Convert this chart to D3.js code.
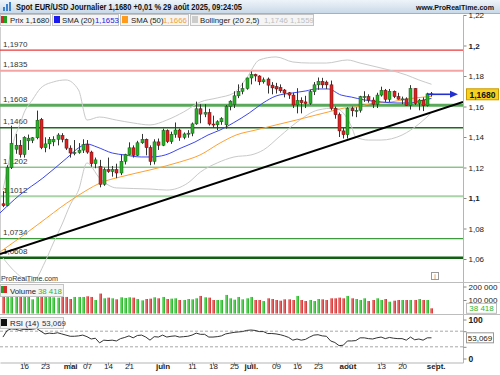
<!DOCTYPE html>
<html>
<head>
<meta charset="utf-8">
<script src="https://cdn.jsdelivr.net/npm/d3@7"></script>
<style>
  body { margin: 0; background: #fff; }
  svg { display: block; font-family: "Liberation Sans", Arial, sans-serif; }
</style>
</head>
<body>
<svg id="chart" width="500" height="375"></svg>
<script>
// trading days, 9 april -> 29 august 2025
const firstDay = new Date(2025, 3, 9);
const isWeekday = d => d.getDay() % 6 !== 0;
const dates = d3.timeDay.range(firstDay, new Date(2025, 7, 30)).filter(isWeekday);

const opens = [1.0962,1.0950,1.1200,1.1320,1.1346,1.1285,1.1375,1.1378,1.1395,1.1515,
  1.1330,1.1355,1.1368,1.1385,1.1410,1.1385,1.1327,1.1295,1.1298,1.1314,
  1.1350,1.1301,1.1225,1.1205,1.1090,1.1186,1.1174,1.1186,1.1164,1.1241,
  1.1284,1.1329,1.1280,1.1362,1.1385,1.1330,1.1240,1.1368,1.1346,1.1442,
  1.1370,1.1418,1.1446,1.1398,1.1420,1.1425,1.1486,1.1585,1.1550,1.1560,
  1.1485,1.1480,1.1500,1.1480,1.1600,1.1612,1.1670,1.1700,1.1718,1.1787,
  1.1810,1.1800,1.1762,1.1780,1.1740,1.1730,1.1725,1.1708,1.1690,1.1675,
  1.1610,1.1640,1.1630,1.1620,1.1697,1.1742,1.1765,1.1760,1.1742,1.1588,
  1.1546,1.1440,1.1415,1.1587,1.1572,1.1575,1.1664,1.1665,1.1642,1.1615,
  1.1675,1.1706,1.1647,1.1700,1.1665,1.1648,1.1650,1.1607,1.1718,1.1620,
  1.1642,1.1605,1.1683];
const highs = [1.1045,1.1215,1.1474,1.1420,1.1380,1.1405,1.1416,1.1400,1.1573,1.1525,
  1.1398,1.1400,1.1405,1.1425,1.1425,1.1390,1.1345,1.1380,1.1360,1.1385,
  1.1380,1.1310,1.1265,1.1250,1.1200,1.1265,1.1210,1.1225,1.1285,1.1290,
  1.1365,1.1345,1.1375,1.1420,1.1390,1.1345,1.1385,1.1390,1.1455,1.1450,
  1.1435,1.1495,1.1455,1.1430,1.1445,1.1495,1.1632,1.1615,1.1615,1.1585,
  1.1540,1.1510,1.1530,1.1610,1.1641,1.1700,1.1745,1.1755,1.1790,1.1830,
  1.1815,1.1805,1.1790,1.1790,1.1760,1.1755,1.1745,1.1715,1.1695,1.1690,
  1.1720,1.1660,1.1670,1.1710,1.1760,1.1790,1.1788,1.1770,1.1770,1.1600,
  1.1560,1.1460,1.1595,1.1600,1.1595,1.1670,1.1700,1.1680,1.1660,1.1690,
  1.1730,1.1715,1.1715,1.1705,1.1690,1.1665,1.1660,1.1740,1.1720,1.1650,
  1.1660,1.1690,1.1695];
const lows = [1.0940,1.0945,1.1190,1.1290,1.1265,1.1265,1.1315,1.1360,1.1385,1.1320,
  1.1300,1.1320,1.1340,1.1345,1.1365,1.1315,1.1265,1.1280,1.1290,1.1295,
  1.1290,1.1205,1.1195,1.1070,1.1080,1.1165,1.1140,1.1130,1.1150,1.1220,
  1.1280,1.1265,1.1275,1.1355,1.1280,1.1215,1.1220,1.1315,1.1340,1.1360,
  1.1355,1.1395,1.1375,1.1385,1.1395,1.1405,1.1480,1.1490,1.1530,1.1475,
  1.1460,1.1445,1.1480,1.1455,1.1575,1.1590,1.1655,1.1680,1.1710,1.1745,
  1.1765,1.1740,1.1750,1.1685,1.1680,1.1685,1.1690,1.1660,1.1650,1.1590,
  1.1555,1.1555,1.1590,1.1610,1.1675,1.1710,1.1720,1.1715,1.1575,1.1520,
  1.1400,1.1390,1.1390,1.1535,1.1530,1.1560,1.1630,1.1625,1.1590,1.1590,
  1.1665,1.1630,1.1630,1.1655,1.1645,1.1615,1.1605,1.1580,1.1610,1.1575,
  1.1570,1.1600,1.1665];
const closes = [1.0950,1.1200,1.1358,1.1346,1.1285,1.1398,1.1392,1.1395,1.1510,1.1330,
  1.1355,1.1385,1.1385,1.1413,1.1385,1.1327,1.1295,1.1298,1.1314,1.1350,
  1.1301,1.1225,1.1250,1.1090,1.1186,1.1174,1.1186,1.1164,1.1241,1.1284,
  1.1329,1.1280,1.1362,1.1385,1.1330,1.1240,1.1368,1.1346,1.1442,1.1370,
  1.1418,1.1446,1.1398,1.1420,1.1425,1.1486,1.1585,1.1550,1.1560,1.1485,
  1.1480,1.1500,1.1520,1.1600,1.1635,1.1670,1.1700,1.1718,1.1787,1.1810,
  1.1800,1.1762,1.1775,1.1740,1.1722,1.1715,1.1703,1.1688,1.1675,1.1610,
  1.1640,1.1625,1.1620,1.1697,1.1742,1.1765,1.1742,1.1742,1.1588,1.1546,
  1.1440,1.1415,1.1587,1.1572,1.1575,1.1664,1.1665,1.1642,1.1615,1.1675,
  1.1706,1.1647,1.1700,1.1665,1.1648,1.1650,1.1607,1.1718,1.1620,1.1642,
  1.1605,1.1683,1.1680];

const volumes = [150000,150000,150000,142600,137600,142600,132600,105000,132600,150000,
  145100,130000,120000,117500,122600,122600,107500,122600,122600,122600,
  127600,122600,100000,147600,112500,117500,112500,105000,120000,115000,
  120000,117500,107500,97400,107500,110000,120000,112500,122600,107500,
  110000,112500,100000,100000,107500,105000,112500,130000,120000,117500,
  100000,100000,100000,137600,112500,102400,122600,105000,112500,122600,
  100000,100000,92400,112500,107500,100000,95000,105000,105000,100000,
  130000,100000,92400,100000,92400,107500,105000,100000,112500,112500,
  117500,112500,130000,112500,107500,100000,112500,92400,100000,112500,
  100000,107500,87400,95000,100000,100000,100000,100000,100000,107500,
  100000,100000,38418];

const rsi = [55,72,76,75,72,75,74,75,77,70,
  63,65,64,66,63,60,57,57,58,60,
  56,50,52,40,47,46,47,45,51,54,
  58,53,59,60,55,47,56,55,60,55,
  57,58,55,56,57,60,65,62,62,55,
  55,56,58,63,65,67,68,69,72,73,
  72,69,69,64,64,63,61,58,54,47,
  50,47,49,55,60,61,58,57,45,41,
  33,34,45,45,46,53,53,51,50,53,
  55,51,54,52,51,51,47,55,48,50,
  47,53,53.069];

// indicator lines: [day index, value]
const sma20 = [[-0.7,1.0902],[4,1.1020],[9.5,1.1131],[15.2,1.1262],[18.3,1.1334],[20,1.1354],
  [22.4,1.1334],[26,1.1295],[29,1.1282],[32.9,1.1269],[35.2,1.1269],[38.6,1.1282],[42.4,1.1328],
  [45.7,1.1367],[48.8,1.1413],[51.7,1.1446],[54.8,1.1492],[58.6,1.1557],[61.9,1.1623],[65,1.1669],
  [69,1.1689],[72.1,1.1702],[74.5,1.1715],[77.4,1.1715],[80.5,1.1675],[82.9,1.1662],[86,1.1643],
  [90,1.1630],[93.8,1.1623],[97.1,1.1623],[100.2,1.1643],[102,1.1653]];
const sma50 = [[-0.7,1.0646],[4,1.0738],[8.8,1.0836],[15.2,1.0967],[20,1.1052],[23.1,1.1098],
  [27.9,1.1138],[35,1.1184],[42.1,1.1236],[46.9,1.1282],[51.7,1.1361],[55.5,1.1413],[60.2,1.1446],
  [65,1.1479],[69.8,1.1511],[74.5,1.1544],[77.4,1.1564],[81.2,1.1590],[84.3,1.1597],[88.3,1.1623],
  [92.4,1.1630],[96.2,1.1649],[100.2,1.1662],[102,1.1666]];
const bollUpper = [[0,1.1052],[1,1.1184],[2,1.1315],[3,1.1413],[4,1.1479],[5,1.1557],[7,1.1643],
  [9,1.1721],[12,1.1761],[15,1.1774],[18,1.1708],[20,1.1511],[23,1.1531],[27,1.1511],[31,1.1492],
  [35,1.1479],[39,1.1511],[43,1.1564],[47,1.1630],[51,1.1656],[55,1.1689],[58,1.1787],[61,1.1905],
  [65,1.1925],[69,1.1892],[73,1.1885],[77,1.1885],[82,1.1905],[85,1.1885],[89,1.1859],[92,1.1839],
  [96,1.1807],[99,1.1774],[102,1.1746]];
const bollLower = [[0,1.0607],[2,1.0541],[4,1.0489],[7,1.0449],[10,1.0580],[12,1.0705],[14,1.0823],
  [16,1.0954],[18,1.1052],[20,1.1230],[23,1.1131],[27,1.1066],[35,1.1059],[39,1.1052],[44,1.1098],
  [47,1.1170],[51,1.1230],[55,1.1269],[59,1.1282],[62,1.1315],[66,1.1407],[70,1.1498],[75,1.1577],
  [79,1.1590],[81,1.1557],[83,1.1466],[84,1.1400],[87,1.1380],[90,1.1380],[95,1.1413],[99,1.1485],
  [102,1.1559]];
const trendLine = [[-0.7,1.0633],[109.5,1.1630]];

const levels = [1.1970, 1.1835, 1.1608, 1.1460, 1.1202, 1.1012, 1.0734, 1.0608];
const priceTicks = [1.06, 1.08, 1.10, 1.12, 1.14, 1.16, 1.18, 1.20, 1.22];
const volumeTicks = [100000, 200000];
const rsiTicks = [0, 30, 70, 100];

const tickLabels = ["16","23","mai","07","14","21","juin","11","18","25","juil.","09","16","23","août","13","20","sept."];
const tickDates = ["2025-04-16","2025-04-23","2025-05-01","2025-05-07","2025-05-14","2025-05-21","2025-06-02",
  "2025-06-11","2025-06-18","2025-06-25","2025-07-01","2025-07-09","2025-07-16","2025-07-23","2025-08-01",
  "2025-08-13","2025-08-20","2025-09-01"];

// styles for the horizontal levels
const levelStyle = [
  {c: "#e83a3a", w: 1.2}, {c: "#f4a4a4", w: 2}, {c: "#5aa85a", w: 3}, {c: "#1d6b1d", w: 1.5},
  {c: "#55a855", w: 1}, {c: "#a8d4a8", w: 2}, {c: "#3d9a3d", w: 1.2}, {c: "#116011", w: 2.5}
];

const fr = d3.formatLocale({decimal: ",", thousands: "\u00a0", grouping: [3], currency: ["", ""]});
const f4 = fr.format(".4f"), fTick = fr.format(".2~f"), fVol = fr.format(",.0f"), fRsi = fr.format(".3f");

const svg = d3.select("#chart");
const axisX = 463;
const parse = d3.timeParse("%Y-%m-%d");
const dayIndex = d => d3.timeDay.range(firstDay, d).filter(isWeekday).length;

const x = d3.scaleLinear().domain([-0.7, 109.5]).range([0, axisX]);
const y = d3.scaleLinear().domain([1.06, 1.22]).range([259, 15]);
const yVol = d3.scaleLinear().domain([0, 200000]).range([313.5, 286.5]);
const yRsi = d3.scaleLinear().domain([0, 100]).range([358.5, 319.5]);

const idx = d3.range(dates.length);
const up = i => closes[i] >= opens[i];

// defs
const defs = svg.append("defs");
defs.append("clipPath").attr("id", "main").append("rect")
  .attr("x", 0).attr("y", 27).attr("width", axisX).attr("height", 255);
const tg = defs.append("linearGradient").attr("id", "title").attr("x1", 0).attr("y1", 0).attr("x2", 0).attr("y2", 1);
tg.append("stop").attr("offset", 0).attr("stop-color", "#eef4fa");
tg.append("stop").attr("offset", 1).attr("stop-color", "#c9d9e8");
function barGrad(id, light, dark) {
  const g = defs.append("linearGradient").attr("id", id);
  g.append("stop").attr("offset", 0).attr("stop-color", light);
  g.append("stop").attr("offset", 1).attr("stop-color", dark);
}
barGrad("vup", "#8ee68e", "#22b022");
barGrad("vdn", "#f39a9a", "#d42a2a");

// title bar
svg.append("rect").attr("width", 500).attr("height", 13).attr("fill", "url(#title)");
svg.append("line").attr("x1", 0).attr("x2", 500).attr("y1", 13.5).attr("y2", 13.5).attr("stroke", "#9fb3c6");
[[3, 7, 4], [6, 4, 7], [9, 2, 9]].forEach(([bx, by, bh]) =>
  svg.append("rect").attr("x", bx).attr("y", by).attr("width", 2).attr("height", bh).attr("fill", "#3d82d0"));
svg.append("text").attr("x", 16).attr("y", 10).attr("font-size", 8.3).attr("font-weight", "bold").attr("fill", "#111")
  .attr("textLength", 226).attr("lengthAdjust", "spacingAndGlyphs")
  .text("Spot EUR/USD Journalier " + f4(closes[closes.length - 1]) + " +0,01 % 29 août 2025, 09:24:05");
svg.append("text").attr("x", 494).attr("y", 10).attr("text-anchor", "end").attr("font-size", 7.1)
  .attr("font-weight", "bold").attr("fill", "#111").text("www.ProRealTime.com");

// legend row
function legendBox(x0, x1, y0, y1) {
  svg.append("rect").attr("x", x0 + 0.5).attr("y", y0 + 0.5).attr("width", x1 - x0).attr("height", y1 - y0)
    .attr("fill", "#f5f5f5").attr("stroke", "#c4c4c4");
}
function swatch(sx, sy, colors) {
  const w = 6 / colors.length;
  colors.forEach((c, k) => svg.append("rect").attr("x", sx + k * w).attr("y", sy).attr("width", w).attr("height", 7).attr("fill", c));
}
function ltext(tx, ty, s, col) {
  svg.append("text").attr("x", tx).attr("y", ty).attr("font-size", 7.8).attr("fill", col || "#222").text(s);
}
legendBox(0, 50, 14, 25);
swatch(1, 16, ["#d42a2a", "#22a022"]);
ltext(10, 23, "Prix " + f4(closes[closes.length - 1]));
legendBox(52, 118, 14, 25);
swatch(54, 16, ["#1a1aee"]);
ltext(62, 23, "SMA (20)");
ltext(95, 23, f4(sma20[sma20.length - 1][1]), "#2424e8");
legendBox(120, 188, 14, 25);
swatch(122, 16, ["#ff9a1a"]);
ltext(131, 23, "SMA (50)");
ltext(163, 23, f4(sma50[sma50.length - 1][1]), "#f5a030");
legendBox(190, 313, 14, 25);
swatch(192, 16, ["#cccccc"]);
ltext(200, 23, "Bollinger (20 2,5)");
ltext(264, 23, f4(bollUpper[bollUpper.length - 1][1]) + " " + f4(bollLower[bollLower.length - 1][1]), "#bdbdbd");

// main panel
const main = svg.append("g").attr("clip-path", "url(#main)");
main.append("line").attr("x1", 0.5).attr("x2", 0.5).attr("y1", 27).attr("y2", 282).attr("stroke", "#cfcfcf");

levels.forEach((lv, k) => {
  main.append("line").attr("x1", 0).attr("x2", axisX).attr("y1", y(lv)).attr("y2", y(lv))
    .attr("stroke", levelStyle[k].c).attr("stroke-width", levelStyle[k].w);
  main.append("text").attr("x", 3).attr("y", y(lv) - 3.5).attr("font-size", 8).attr("fill", "#333").text(f4(lv));
});

const lineGen = d3.line().x(d => x(d[0])).y(d => y(d[1])).curve(d3.curveMonotoneX);
[bollUpper, bollLower].forEach(b => main.append("path").attr("d", lineGen(b))
  .attr("fill", "none").attr("stroke", "#c9c9c9").attr("stroke-width", 1));
main.append("path").attr("d", lineGen(sma50)).attr("fill", "none").attr("stroke", "#ffa030").attr("stroke-width", 1);
main.append("path").attr("d", lineGen(sma20)).attr("fill", "none").attr("stroke", "#3c46f0").attr("stroke-width", 1);
main.append("path").attr("d", d3.line().x(d => x(d[0])).y(d => y(d[1]))(trendLine))
  .attr("fill", "none").attr("stroke", "#000").attr("stroke-width", 2);

// candles
const candles = main.append("g");
candles.selectAll("line").data(idx).join("line")
  .attr("x1", i => Math.round(x(i)) + 0.5).attr("x2", i => Math.round(x(i)) + 0.5)
  .attr("y1", i => y(highs[i])).attr("y2", i => y(lows[i]))
  .attr("stroke", "#333").attr("stroke-width", 1);
candles.selectAll("rect").data(idx).join("rect")
  .attr("x", i => Math.round(x(i)) - 1)
  .attr("y", i => y(Math.max(opens[i], closes[i])))
  .attr("width", 3)
  .attr("height", i => Math.max(1, Math.abs(y(opens[i]) - y(closes[i]))))
  .attr("fill", i => up(i) ? "#26b026" : "#e02020")
  .attr("stroke", i => up(i) ? "#1c521c" : "#5a1010").attr("stroke-width", 0.5);

// last price arrow
const lastI = idx[idx.length - 1], lastY = y(closes[lastI]);
svg.append("line").attr("x1", x(lastI) - 4).attr("x2", 451).attr("y1", lastY).attr("y2", lastY)
  .attr("stroke", "#2230d0").attr("stroke-width", 1.6);
svg.append("path").attr("d", `M450,${lastY - 3.5}L458,${lastY}L450,${lastY + 3.5}Z`).attr("fill", "#2230d0");

svg.append("text").attr("x", 1).attr("y", 281).attr("font-size", 8).attr("fill", "#333")
  .attr("textLength", 57).attr("lengthAdjust", "spacingAndGlyphs").text("ProRealTime.com");
svg.append("rect").attr("x", 431.5).attr("y", 272.5).attr("width", 7).attr("height", 7).attr("fill", "#fff").attr("stroke", "#999");
svg.append("text").attr("x", 435).attr("y", 279).attr("text-anchor", "middle").attr("font-size", 6.5).attr("fill", "#777").text("i");

// price axis
const pAxis = svg.append("g").attr("transform", `translate(${axisX + 0.5},0)`)
  .call(d3.axisRight(y).tickValues(priceTicks).tickSize(3).tickSizeOuter(0).tickFormat(fTick));
pAxis.select(".domain").remove();
pAxis.selectAll("line").attr("stroke", "#888");
pAxis.selectAll("text").attr("font-size", 8).attr("fill", "#222").attr("x", 5).attr("font-family", "Liberation Sans, Arial")
  .attr("font-weight", d => (Math.abs(d - 1.2) < 1e-6 || Math.abs(d - 1.1) < 1e-6) ? "bold" : "normal");
svg.append("line").attr("x1", axisX + 0.5).attr("x2", axisX + 0.5).attr("y1", 15).attr("y2", 363).attr("stroke", "#b5b5b5");

// price box
const pb = svg.append("g");
pb.append("rect").attr("x", 466.5).attr("y", lastY - 5.5).attr("width", 32).attr("height", 11)
  .attr("fill", "#f6d11e").attr("stroke", "#c99a00");
pb.append("text").attr("x", 482.5).attr("y", lastY + 3.2).attr("text-anchor", "middle").attr("font-size", 8.5)
  .attr("font-weight", "bold").attr("fill", "#111").text(f4(closes[lastI]));

// panel separators
[282.5, 314.5].forEach(sy => svg.append("line").attr("x1", 0).attr("x2", 500).attr("y1", sy).attr("y2", sy).attr("stroke", "#bdbdbd"));

// volume
svg.append("g").selectAll("rect").data(idx).join("rect")
  .attr("x", i => Math.round(x(i)) - 1).attr("width", 3)
  .attr("y", i => yVol(volumes[i])).attr("height", i => yVol(0) - yVol(volumes[i]))
  .attr("fill", i => up(i) ? "url(#vup)" : "url(#vdn)");
legendBox(0, 63, 284, 296);
swatch(1, 286, ["#22a022", "#d42a2a"]);
ltext(10, 293.5, "Volume");
ltext(38, 293.5, fVol(volumes[lastI]), "#2fb52f");
const vAxis = svg.append("g").attr("transform", `translate(${axisX + 0.5},0)`)
  .call(d3.axisRight(yVol).tickValues(volumeTicks).tickSize(3).tickFormat(fVol));
vAxis.select(".domain").remove();
vAxis.selectAll("line").attr("stroke", "#888");
vAxis.selectAll("text").attr("font-size", 8).attr("fill", "#222").attr("x", 5);
svg.append("rect").attr("x", 466.5).attr("y", yVol(volumes[lastI]) - 5).attr("width", 30).attr("height", 10)
  .attr("fill", "#fff").attr("stroke", "#bbb");
svg.append("text").attr("x", 481.5).attr("y", yVol(volumes[lastI]) + 3).attr("text-anchor", "middle")
  .attr("font-size", 8).attr("fill", "#2fb52f").text(fVol(volumes[lastI]));

// rsi
[30, 70].forEach(v => svg.append("line").attr("x1", 0).attr("x2", axisX).attr("y1", yRsi(v)).attr("y2", yRsi(v))
  .attr("stroke", "#a8a8a8").attr("stroke-dasharray", "3,2"));
svg.append("path").attr("d", d3.line().x(i => x(i)).y(i => yRsi(rsi[i]))(idx))
  .attr("fill", "none").attr("stroke", "#333").attr("stroke-width", 1);
legendBox(0, 63, 317, 328);
swatch(1, 319, ["#111"]);
ltext(10, 325.5, "RSI (14)");
ltext(42, 325.5, fRsi(rsi[lastI]), "#333");
const rAxis = svg.append("g").attr("transform", `translate(${axisX + 0.5},0)`)
  .call(d3.axisRight(yRsi).tickValues(rsiTicks).tickSize(3).tickFormat(d => (d === 0 || d === 100) ? d : ""));
rAxis.select(".domain").remove();
rAxis.selectAll("line").attr("stroke", "#888");
rAxis.selectAll("text").attr("font-size", 8.5).attr("font-weight", "bold").attr("fill", "#222").attr("x", 5);
svg.append("rect").attr("x", 466.5).attr("y", yRsi(rsi[lastI]) - 5).attr("width", 27).attr("height", 10)
  .attr("fill", "#fff").attr("stroke", "#999");
svg.append("text").attr("x", 480).attr("y", yRsi(rsi[lastI]) + 3).attr("text-anchor", "middle")
  .attr("font-size", 8).attr("fill", "#222").text(fRsi(rsi[lastI]));

// time axis
const tIdx = tickDates.map(s => dayIndex(parse(s)));
const tAxis = svg.append("g").attr("transform", "translate(0,362.5)")
  .call(d3.axisBottom(x).tickValues(tIdx).tickSize(3).tickSizeOuter(0).tickFormat((d, k) => tickLabels[k]));
tAxis.select(".domain").attr("stroke", "#b5b5b5");
tAxis.selectAll("line").attr("stroke", "#888");
tAxis.selectAll("text").attr("font-size", 8).attr("fill", "#222").attr("dy", "0.55em").attr("y", 2)
  .attr("font-family", "Liberation Sans, Arial")
  .attr("font-weight", (d, k) => /^\d+$/.test(tickLabels[k]) ? "normal" : "bold");
</script>
</body>
</html>
